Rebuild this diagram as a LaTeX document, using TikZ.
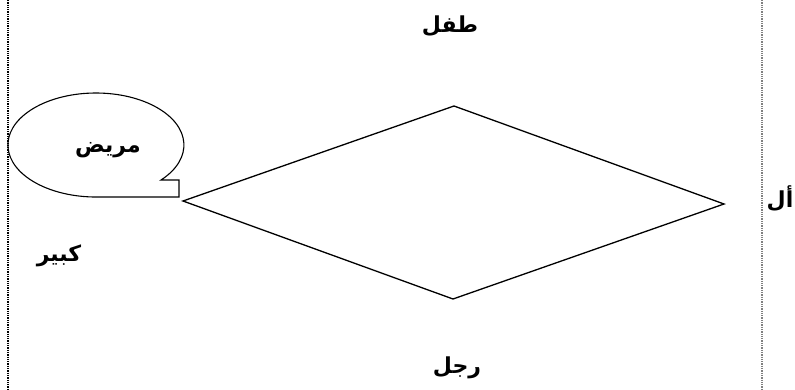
\documentclass[tikz,border=0pt]{standalone}
\usepackage{fontspec}
\newfontfamily\arabicfont[Script=Arabic]{DejaVu Sans}
\TeXXeTstate=1

\begin{document}
\begin{tikzpicture}[x=1pt, y=-1pt,
    % Define the styles for the words and the frame
    word/.style={font=\arabicfont\bfseries\fontsize{22}{26}\selectfont, inner sep=0pt},
    frameline/.style={line width=1.3pt, densely dotted}
]
\useasboundingbox (0,0) rectangle (795,390);

% Define the points of the diamond
\coordinate (L) at (183,201);
\coordinate (T) at (454,106);
\coordinate (R) at (724,204);
\coordinate (B) at (453,299);

% Define the ends of the frame lines
\coordinate (FLt) at (8,0);
\coordinate (FLb) at (8,390);
\coordinate (FRt) at (762,0);
\coordinate (FRb) at (762,390);

% Draw the frame lines
\draw[frameline] (FLt) -- (FLb);
\draw[frameline, gray] (FRt) -- (FRb);

% Draw the diamond
\draw[line width=1.3pt] (L) -- (T) -- (R) -- (B) -- cycle;

% Draw the bubble with its tail
\draw[line width=1.1pt] (161,180)
    arc[start angle=42.3, end angle=-270, x radius=88, y radius=52]
    -- (179,197) -- (179,180) -- cycle;

% Add the words
\node[word] (child) at (450,26) {\beginR طفل\endR};
\node[word] (man) at (457,368) {\beginR رجل\endR};
\node[word] (ill) at (108,150) {\beginR مريض\endR};
\node[word] (old) at (59,256) {\beginR كبير\endR};
\node[word] (al) at (780,199) {\beginR أل\endR};

\end{tikzpicture}
\end{document}
